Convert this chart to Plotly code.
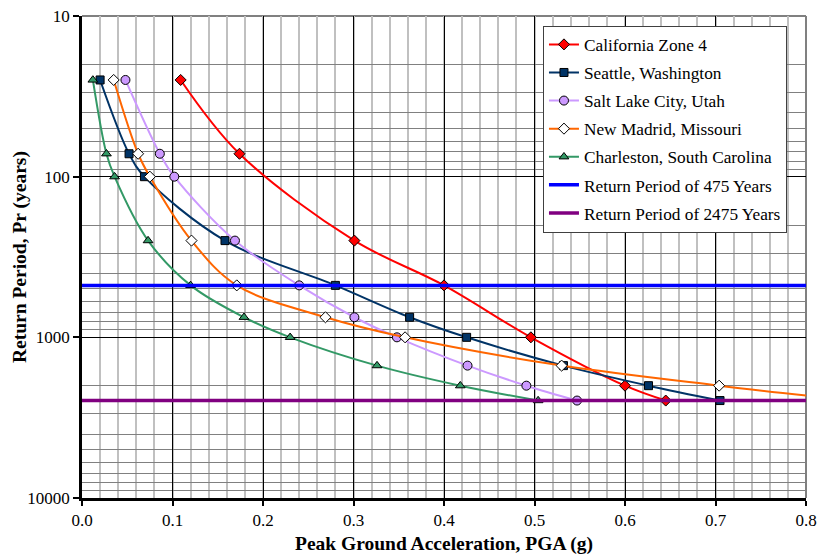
import plotly.graph_objects as go

# Return periods (years)
rp = [25, 72, 100, 250, 475, 750, 1000, 1500, 2000, 2475]
rp_ca = [25, 72, 250, 475, 1000, 2000, 2475]

pga_california = [0.109, 0.174, 0.301, 0.400, 0.496, 0.600, 0.645]
pga_seattle = [0.020, 0.052, 0.069, 0.158, 0.280, 0.362, 0.425, 0.532, 0.626, 0.705]
pga_saltlake = [0.048, 0.086, 0.102, 0.169, 0.240, 0.301, 0.348, 0.426, 0.491, 0.547]
pga_newmadrid = [0.035, 0.062, 0.075, 0.121, 0.171, 0.269, 0.357, 0.530, 0.704, 0.850]
pga_charleston = [0.012, 0.027, 0.036, 0.073, 0.120, 0.179, 0.230, 0.326, 0.418, 0.504]

hline_x = [0.0, 0.8]
rp475 = [475, 475]
rp2475 = [2475, 2475]

x_ticks = [0.0, 0.1, 0.2, 0.3, 0.4, 0.5, 0.6, 0.7, 0.8]
x_tick_labels = ["0.0", "0.1", "0.2", "0.3", "0.4", "0.5", "0.6", "0.7", "0.8"]
y_ticks = [10, 100, 1000, 10000]
y_tick_labels = ["10", "100", "1000", "10000"]
y_minor = [m * d for d in (10, 100, 1000) for m in range(2, 10)]
x_minor = [i / 50 for i in range(41)]

FONT = "Liberation Serif"

fig = go.Figure()

def curve(name, x, y, color, symbol, fill, size, group):
    fig.add_trace(go.Scatter(
        x=x, y=y, name=name, mode="lines+markers",
        line=dict(color=color, width=2, shape="spline", smoothing=1.0),
        marker=dict(symbol=symbol, size=size, color=fill,
                    line=dict(color="black", width=1)),
        legendgroup=group,
    ))

curve("California Zone 4", pga_california, rp_ca, "#FF0000", "diamond", "#FF0000", 8.5, "a")
curve("Seattle, Washington", pga_seattle, rp, "#003366", "square", "#003366", 8, "b")
curve("Salt Lake City, Utah", pga_saltlake, rp, "#CC99FF", "circle", "#CC99FF", 9, "c")
curve("New Madrid, Missouri", pga_newmadrid, rp, "#FF6600", "diamond", "#FFFFFF", 8.5, "d")
curve("Charleston, South Carolina", pga_charleston, rp, "#339966", "triangle-up", "#339966", 8.5, "e")

fig.add_trace(go.Scatter(x=hline_x, y=rp475, name="Return Period of 475 Years",
                         mode="lines", line=dict(color="#0000FF", width=3.5),
                         legendgroup="f"))
fig.add_trace(go.Scatter(x=hline_x, y=rp2475, name="Return Period of 2475 Years",
                         mode="lines", line=dict(color="#800080", width=3.5),
                         legendgroup="g"))

fig.update_layout(
    width=817, height=555,
    margin=dict(l=82, r=11, t=16, b=57, autoexpand=False),
    paper_bgcolor="white", plot_bgcolor="white",
    font=dict(family=FONT, size=17, color="black"),
    legend=dict(
        x=0.6367, y=0.98, xanchor="left", yanchor="top",
        bgcolor="white", bordercolor="#404040", borderwidth=1,
        font=dict(family=FONT, size=17.3, color="black"),
        tracegroupgap=2.6, itemwidth=30,
        traceorder="grouped",
    ),
    annotations=[
        dict(text="<b>Peak Ground Acceleration, PGA (g)</b>", xref="paper", yref="paper",
             x=0.5, y=-(544 - 497.7) / 482, xanchor="center", yanchor="middle",
             showarrow=False, font=dict(family=FONT, size=19.5)),
        dict(text="<b>Return Period, Pr (years)</b>", xref="paper", yref="paper",
             x=-(82 - 20) / 724, y=0.5, xanchor="center", yanchor="middle",
             textangle=-90, showarrow=False, font=dict(family=FONT, size=19.5)),
    ],
)

fig.update_xaxes(
    range=[0, 0.8], automargin=False, ticklabeloverflow="allow",
    tickmode="array", tickvals=x_ticks, ticktext=x_tick_labels,
    ticks="outside", ticklen=5, tickwidth=2, tickcolor="black",
    showline=True, linecolor="black", linewidth=2.5,
    showgrid=True, gridcolor="black", gridwidth=1,
    zeroline=False,
    tickfont=dict(family=FONT, size=17),
    minor=dict(tickmode="array", tickvals=x_minor, showgrid=True,
               gridcolor="#C0C0C0", gridwidth=1.5, ticks=""),
)

fig.update_yaxes(
    type="log", range=[4.0002, 0.9998], automargin=False, ticklabeloverflow="allow",
    tickmode="array", tickvals=y_ticks, ticktext=y_tick_labels,
    ticks="outside", ticklen=6, tickwidth=2, tickcolor="black",
    showline=True, linecolor="black", linewidth=2.5,
    showgrid=True, gridcolor="black", gridwidth=1,
    zeroline=False,
    tickfont=dict(family=FONT, size=17),
    minor=dict(tickmode="array", tickvals=y_minor, showgrid=True,
               gridcolor="#808080", gridwidth=1, ticks=""),
)

# gray top/right border
fig.add_shape(type="line", xref="paper", yref="paper", x0=0, x1=1, y0=1, y1=1,
              line=dict(color="#808080", width=2), layer="below")
fig.add_shape(type="line", xref="paper", yref="paper", x0=1, x1=1, y0=0, y1=1,
              line=dict(color="#808080", width=2), layer="below")

fig.write_html(
    "out.html",
    config={"displayModeBar": False},
    post_script="document.body.style.margin='0';document.body.style.overflow='hidden';",
)
